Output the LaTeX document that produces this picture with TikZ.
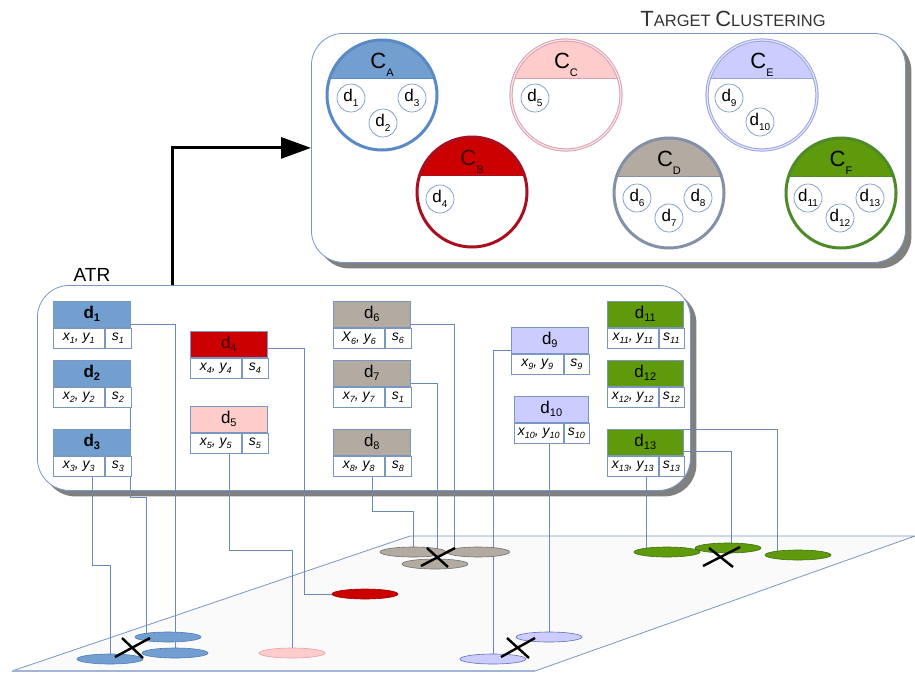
\documentclass[tikz,border=0pt]{standalone}
\usepackage{fontspec}
\setmainfont{Liberation Sans}
\usetikzlibrary{shapes.geometric,arrows.meta,calc,shadows}
\pgfdeclarelayer{back}
\pgfdeclarelayer{mid}
\pgfsetlayers{back,mid,main}
\definecolor{cblue}{HTML}{729FCF}
\definecolor{cred}{HTML}{CC0000}
\definecolor{cpink}{HTML}{FFCCCC}
\definecolor{clav}{HTML}{CCCCFF}
\definecolor{cgray}{HTML}{B3ABA2}
\definecolor{cgreen}{HTML}{5E9A0C}
\definecolor{lnc}{HTML}{6A89B5}
\definecolor{edgec}{HTML}{7A96C2}
\definecolor{bA}{HTML}{5A8AC6}
\definecolor{bC}{HTML}{D8A0B0}
\definecolor{bCi}{HTML}{FBE6EA}
\definecolor{bE}{HTML}{9AA4E0}
\definecolor{bEi}{HTML}{E4E6FA}
\definecolor{bB}{HTML}{A81020}
\definecolor{bD}{HTML}{8391A8}
\definecolor{bF}{HTML}{4E8A2A}
\definecolor{eblue}{HTML}{4F7DB8}
\definecolor{ered}{HTML}{A00000}
\definecolor{epink}{HTML}{E8A0A8}
\definecolor{egray}{HTML}{707070}
\definecolor{elav}{HTML}{6070B0}
\definecolor{egreen}{HTML}{3F7010}
\definecolor{planef}{HTML}{FAFAFB}
\definecolor{dred}{HTML}{3A0000}
\newcommand\lsub[3]{\raisebox{#1}{\fontsize{#2}{#2}\selectfont #3}}
\newcommand\hsub[1]{\lsub{-3pt}{11}{#1}}
\newcommand\fsub[1]{\lsub{-3pt}{9}{#1}}
\newcommand\csub[1]{\lsub{-5pt}{10}{#1}}
\newcommand\ksub[1]{\lsub{-8pt}{11}{#1}}
\newcommand\rec[9]{%
  \node[hdr,fill=#4,minimum width=#8pt] (#1h) at (#2,#3) {#5};
  \node[fld,minimum width=#9pt] (#1a) at (#1h.south west) {#6};
  \node[fld,minimum width=\fpeval{#8-#9}pt] (#1b) at (#1a.north east) {#7};}
\begin{document}
\begin{tikzpicture}[x=1pt,y=-1pt,
  bigbox/.style={draw=edgec,fill=white,rounded corners=32pt,anchor=north west,line width=0.8pt,
    drop shadow={shadow xshift=6pt,shadow yshift=-6pt,fill=black!50,opacity=1}},
  hdr/.style={draw=edgec,line width=0.6pt,minimum height=26pt,inner sep=0pt,anchor=north west,
    font={\fontsize{17}{17}\selectfont}},
  fld/.style={draw=edgec,line width=0.6pt,fill=white,minimum height=20pt,inner sep=0pt,anchor=north west,
    font={\fontsize{14}{14}\selectfont\itshape}},
  clus/.style 2 args={circle,minimum size=110pt,inner sep=0pt,fill=white,draw=#2,line width=3pt,
    path picture={\fill[#1] (path picture bounding box.north west) rectangle ($(path picture bounding box.east)+(0,-17)$);
      \draw[#2,line width=0.8pt] ($(path picture bounding box.west)+(0,-17)$) -- ($(path picture bounding box.east)+(0,-17)$);}},
  sd/.style={circle,draw=edgec,line width=0.7pt,fill=white,minimum size=28pt,inner sep=0pt,
    font={\fontsize{17}{17}\selectfont}},
  clab/.style={anchor=base,inner sep=0pt,font={\fontsize{22}{22}\selectfont}},
  ell/.style 2 args={ellipse,minimum width=66pt,minimum height=10pt,inner sep=0pt,fill=#1,draw=#2,line width=0.6pt},
  conn/.style={draw=lnc,line width=0.8pt},
  xm/.style={line width=2.4pt,black},
  bigarrow/.style={line width=3pt,-{Triangle[length=30pt,width=21pt]}}]
\useasboundingbox (0,0) rectangle (915,673);

% ---------- back layer: boxes and plane ----------
\begin{pgfonlayer}{back}
\node[bigbox,minimum width=594pt,minimum height=229pt] (tbox) at (311,33) {};
\node[bigbox,minimum width=653pt,minimum height=205pt] (atrbox) at (37,285) {};
\fill[planef] (12,671) -- (410,536) -- (915,536) -- (535,671) -- cycle;
\draw[draw=edgec,line width=0.8pt] (12,671) -- (410,536) -- (915,536) -- (535,671);
\draw[draw=edgec!70,line width=2pt] (12,671) -- (535,671);
\end{pgfonlayer}

% ---------- titles ----------
\node[text=black!80] (title) at (733,19) {\fontsize{22}{22}\selectfont T\fontsize{16.5}{16.5}\selectfont ARGET \fontsize{22}{22}\selectfont C\fontsize{16.5}{16.5}\selectfont LUSTERING};
\node[font={\fontsize{19}{19}\selectfont}] (atrlab) at (92,275) {ATR};

% ---------- clusters ----------
\node[clus={cblue}{bA}] (cA) at (382,95) {};
\node[clus={cpink}{bC},line width=1pt,double=bCi,double distance=1.2pt] (cC) at (566,95) {};
\node[clus={clav}{bE},line width=1pt,double=bEi,double distance=1.2pt] (cE) at (762,95) {};
\node[clus={cred}{bB}] (cB) at (472,192) {};
\node[clus={cgray}{bD}] (cD) at (669,193) {};
\node[clus={cgreen}{bF}] (cF) at (841,193) {};
\node[clab] (cAl) at ($(cA.center)+(0,-27)$) {C\ksub{A}};
\node[clab] (cCl) at ($(cC.center)+(0,-27)$) {C\ksub{C}};
\node[clab] (cEl) at ($(cE.center)+(0,-27)$) {C\ksub{E}};
\node[clab,text=dred] (cBl) at ($(cB.center)+(0,-27)$) {C\ksub{B}};
\node[clab] (cDl) at ($(cD.center)+(0,-27)$) {C\ksub{D}};
\node[clab] (cFl) at ($(cF.center)+(0,-27)$) {C\ksub{F}};
\node[sd] (s1) at (351,98) {d\csub{1}};
\node[sd] (s3) at (412,98) {d\csub{3}};
\node[sd] (s2) at (383,123) {d\csub{2}};
\node[sd] (s5) at (535,98) {d\csub{5}};
\node[sd] (s9) at (729,98) {d\csub{9}};
\node[sd] (s10) at (760,122) {d\csub{10}};
\node[sd] (s4) at (440,199) {d\csub{4}};
\node[sd] (s6) at (637,198) {d\csub{6}};
\node[sd] (s8) at (698,198) {d\csub{8}};
\node[sd] (s7) at (669,218) {d\csub{7}};
\node[sd] (s11) at (808,198) {d\csub{11}};
\node[sd] (s13) at (870,198) {d\csub{13}};
\node[sd] (s12) at (840,218) {d\csub{12}};

% ---------- arrow ----------
\coordinate (ax) at (172,0);
\draw[bigarrow] (atrbox.north -| ax) |- (tbox.west);

% ---------- records ----------
\rec{d1}{53}{301}{cblue}{\textbf{d\hsub{1}}}{x\fsub{1}, y\fsub{1}}{s\fsub{1}}{77}{51}
\rec{d2}{53}{360}{cblue}{\textbf{d\hsub{2}}}{x\fsub{2}, y\fsub{2}}{s\fsub{2}}{77}{51}
\rec{d3}{53}{429}{cblue}{\textbf{d\hsub{3}}}{x\fsub{3}, y\fsub{3}}{s\fsub{3}}{77}{51}
\rec{d4}{190}{331}{cred}{\textcolor{dred}{d\hsub{4}}}{x\fsub{4}, y\fsub{4}}{s\fsub{4}}{77}{51}
\rec{d5}{190}{406}{cpink}{d\hsub{5}}{x\fsub{5}, y\fsub{5}}{s\fsub{5}}{77}{51}
\rec{d6}{333}{301}{cgray}{d\hsub{6}}{X\fsub{6}, y\fsub{6}}{s\fsub{6}}{77}{51}
\rec{d7}{333}{360}{cgray}{d\hsub{7}}{x\fsub{7}, y\fsub{7}}{s\fsub{1}}{77}{51}
\rec{d8}{333}{429}{cgray}{d\hsub{8}}{x\fsub{8}, y\fsub{8}}{s\fsub{8}}{77}{51}
\rec{d9}{511}{327}{clav}{d\hsub{9}}{x\fsub{9}, y\fsub{9}}{s\fsub{9}}{77}{52}
\rec{d10}{514}{396}{clav}{d\hsub{10}}{x\fsub{10}, y\fsub{10}}{s\fsub{10}}{74}{49}
\rec{d11}{607}{301}{cgreen}{d\hsub{11}}{x\fsub{11}, y\fsub{11}}{s\fsub{11}}{76}{51}
\rec{d12}{607}{360}{cgreen}{d\hsub{12}}{x\fsub{12}, y\fsub{12}}{s\fsub{12}}{76}{51}
\rec{d13}{607}{429}{cgreen}{d\hsub{13}}{x\fsub{13}, y\fsub{13}}{s\fsub{13}}{76}{51}

% ---------- ellipses on the plane ----------
\node[ell={cblue}{eblue}] (e2) at (168,637) {};
\node[ell={cblue}{eblue}] (e3) at (175,653) {};
\node[ell={cblue}{eblue}] (e1) at (110,659) {};
\node[ell={cred}{ered}] (e4) at (365,594) {};
\node[ell={cpink}{epink}] (e5) at (292,653) {};
\node[ell={cgray}{egray}] (e8) at (413,552) {};
\node[ell={cgray}{egray},minimum width=63pt] (e6) at (478,552) {};
\node[ell={cgray}{egray}] (e7) at (435,564) {};
\node[ell={clav}{elav}] (e10) at (549,637) {};
\node[ell={clav}{elav}] (e9) at (493,659) {};
\node[ell={cgreen}{egreen}] (e13) at (667,552) {};
\node[ell={cgreen}{egreen}] (e12) at (728,548) {};
\node[ell={cgreen}{egreen}] (e11) at (798,555) {};

% ---------- crosses ----------
\draw[xm] (115,657) -- (150,638) (122,638) -- (143,658);
\draw[xm] (421,566) -- (455,548) (427,548) -- (448,567);
\draw[xm] (501,657) -- (535,638) (507,638) -- (529,658);
\draw[xm] (703,566) -- (740,547) (709,548) -- (733,567);

% ---------- connectors ----------
\begin{pgfonlayer}{mid}
\coordinate (b2) at (146,497);
\coordinate (b3) at (92,565);
\coordinate (b4) at (304,594);
\coordinate (b5) at (229,550);
\coordinate (b6) at (454,552);
\coordinate (b7) at (437,564);
\coordinate (b8) at (372,511);
\coordinate (b11) at (777,555);
\coordinate (b12) at (731,548);
\coordinate (b13) at (646,552);
\draw[conn] ([yshift=-10pt]d1h.east) -| (e3.center);
\draw[conn] ([yshift=-10pt]d2h.east) |- (b2) -- (b2 |- e2.center);
\draw[conn] (b3 |- d3a.south) -- (b3) -| (e1.center);
\draw[conn] ([yshift=-4pt]d4h.east) -| (b4) -- (e4.west);
\draw[conn] (b5 |- d5a.south) -- (b5) -| (e5.center);
\draw[conn] ([yshift=-10pt]d6h.east) -| (b6);
\draw[conn] ([yshift=-10pt]d7h.east) -| (b7);
\draw[conn] (b8 |- d8a.south) -- (b8) -| (e8.center);
\draw[conn] ([yshift=-10pt]d9h.west) -| (e9.center);
\draw[conn] (e10.center |- d10a.south) -- (e10.center);
\draw[conn] (b13 |- d13a.south) -- (b13);
\draw[conn] (d13h.north east) -| (b11);
\draw[conn] ([yshift=-9pt]d13h.east) -| (b12);
\end{pgfonlayer}
\end{tikzpicture}
\end{document}
